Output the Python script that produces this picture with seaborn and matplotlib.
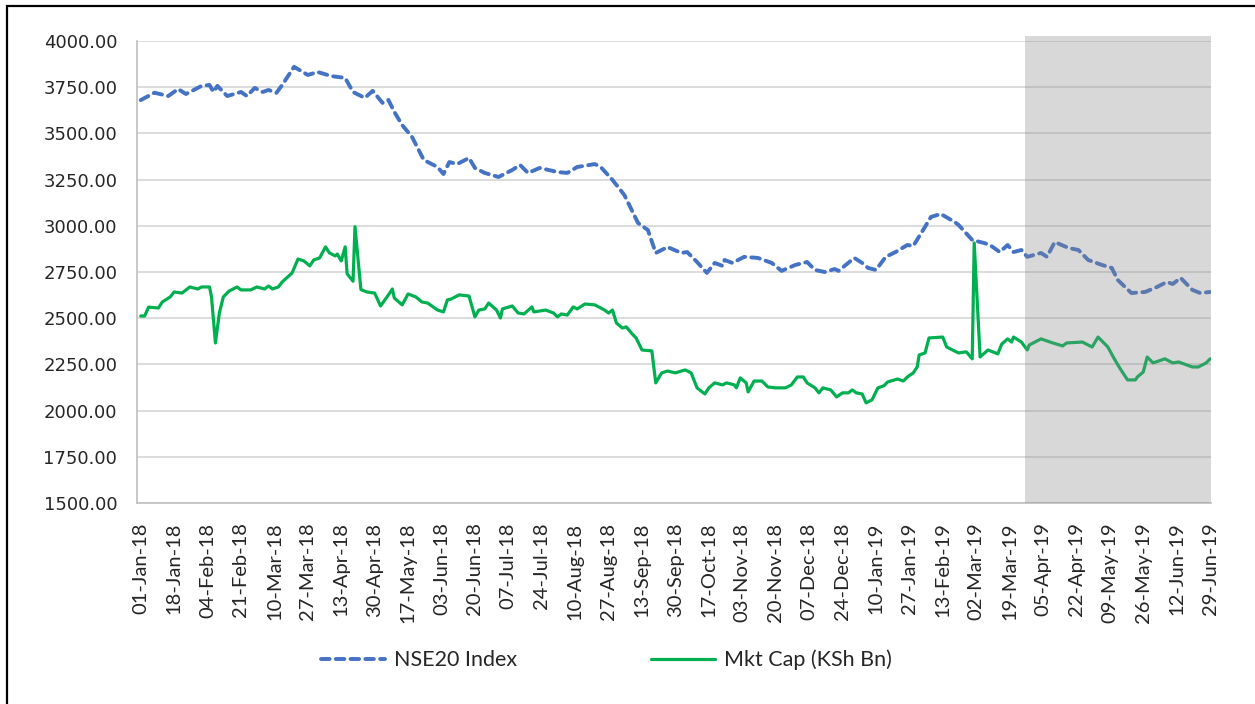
import pandas as pd
import matplotlib.pyplot as plt
import matplotlib.dates as mdates
from matplotlib.patches import Rectangle
from matplotlib.ticker import MultipleLocator, FuncFormatter
import seaborn as sns

# days counted from 01-Jan-2018
start_date = '2018-01-01'
end_date = '2019-06-29'
shade_start_day = 450

nse_days = [0, 7, 14, 19, 23, 31, 35, 37, 39, 44,
            51, 54, 58, 62, 65, 69, 72, 78, 85, 90,
            97, 104, 108, 114, 118, 123, 126, 129, 133, 138,
            144, 151, 154, 157, 161, 167, 170, 175, 182, 189,
            193, 197, 203, 212, 217, 222, 231, 234, 240, 246,
            253, 258, 262, 268, 275, 278, 283, 288, 292, 296,
            297, 301, 307, 314, 321, 326, 333, 339, 343, 348,
            353, 355, 363, 367, 370, 374, 379, 384, 390, 393,
            398, 402, 407, 414, 416, 423, 429, 432, 437, 441,
            444, 448, 451, 458, 461, 465, 472, 477, 482, 489,
            494, 497, 504, 511, 517, 522, 525, 529, 535, 539,
            544]
nse_vals = [3680, 3720, 3702, 3740, 3713, 3757, 3762, 3724, 3757, 3702,
            3724, 3702, 3746, 3724, 3735, 3719, 3762, 3860, 3816, 3832,
            3810, 3800, 3724, 3692, 3730, 3665, 3681, 3616, 3545, 3481,
            3356, 3318, 3280, 3345, 3334, 3367, 3313, 3286, 3264, 3302,
            3329, 3286, 3313, 3291, 3286, 3318, 3334, 3318, 3248, 3167,
            3015, 2977, 2853, 2885, 2853, 2858, 2804, 2745, 2799, 2783,
            2815, 2799, 2832, 2826, 2799, 2756, 2788, 2804, 2761, 2750,
            2766, 2756, 2826, 2799, 2772, 2761, 2832, 2858, 2896, 2891,
            2977, 3048, 3064, 3021, 3005, 2923, 2907, 2896, 2858, 2896,
            2858, 2869, 2832, 2853, 2832, 2912, 2880, 2869, 2815, 2788,
            2772, 2707, 2636, 2642, 2669, 2696, 2685, 2718, 2653, 2636,
            2642]

cap_days = [0, 2, 4, 9, 11, 15, 17, 21, 25, 29,
            31, 35, 36, 38, 40, 42, 45, 49, 51, 56,
            59, 63, 65, 67, 70, 72, 77, 80, 83, 86,
            88, 91, 94, 96, 99, 100, 102, 104, 105, 108,
            109, 112, 115, 119, 122, 126, 128, 129, 133, 136,
            140, 143, 146, 151, 154, 156, 158, 162, 167, 170,
            172, 175, 177, 181, 183, 184, 189, 192, 195, 199,
            200, 206, 210, 212, 214, 217, 220, 222, 226, 231,
            236, 238, 240, 242, 245, 247, 250, 252, 255, 260,
            262, 265, 268, 272, 275, 277, 280, 283, 287, 289,
            292, 296, 298, 302, 303, 305, 308, 309, 312, 316,
            319, 323, 328, 331, 334, 337, 339, 343, 345, 347,
            351, 354, 357, 360, 362, 364, 367, 369, 372, 375,
            378, 380, 385, 388, 390, 393, 395, 396, 399, 401,
            408, 410, 414, 416, 420, 423, 424, 427, 431, 436,
            438, 441, 443, 444, 448, 451, 452, 458, 464, 469,
            471, 479, 484, 487, 492, 495, 498, 502, 506, 507,
            510, 512, 515, 521, 525, 528, 535, 538, 542, 544]
cap_vals = [2512, 2512, 2560, 2555, 2588, 2615, 2642, 2636, 2669, 2658,
            2669, 2669, 2615, 2366, 2528, 2615, 2647, 2669, 2653, 2653,
            2669, 2658, 2674, 2658, 2669, 2696, 2745, 2820, 2810, 2783,
            2815, 2826, 2886, 2853, 2837, 2847, 2810, 2886, 2740, 2700,
            2995, 2655, 2642, 2636, 2566, 2626, 2658, 2609, 2572, 2631,
            2615, 2588, 2582, 2544, 2534, 2599, 2604, 2626, 2620, 2507,
            2544, 2550, 2582, 2544, 2501, 2550, 2566, 2528, 2523, 2561,
            2534, 2544, 2528, 2507, 2523, 2517, 2561, 2550, 2577, 2572,
            2544, 2528, 2544, 2474, 2447, 2453, 2415, 2393, 2328, 2323,
            2150, 2204, 2214, 2204, 2214, 2220, 2204, 2123, 2090, 2123,
            2150, 2139, 2150, 2139, 2123, 2177, 2150, 2101, 2160, 2160,
            2128, 2123, 2123, 2139, 2182, 2182, 2150, 2123, 2096, 2123,
            2112, 2074, 2096, 2096, 2112, 2096, 2090, 2042, 2058, 2123,
            2134, 2155, 2171, 2160, 2182, 2204, 2236, 2301, 2312, 2393,
            2398, 2344, 2323, 2312, 2318, 2280, 2907, 2290, 2328, 2307,
            2360, 2388, 2371, 2398, 2371, 2328, 2355, 2388, 2366, 2350,
            2366, 2371, 2344, 2398, 2344, 2285, 2231, 2166, 2166, 2182,
            2209, 2290, 2258, 2280, 2258, 2263, 2236, 2236, 2258, 2280]

t0 = pd.Timestamp(start_date)
nse = pd.DataFrame({'Date': t0 + pd.to_timedelta(nse_days, unit='D'), 'Value': nse_vals})
cap = pd.DataFrame({'Date': t0 + pd.to_timedelta(cap_days, unit='D'), 'Value': cap_vals})

sns.set_style('white')
plt.rcParams['font.family'] = ['Lato', 'DejaVu Sans']

fig = plt.figure(figsize=(12.55, 7.04), dpi=100)
ax = fig.add_axes([0.109, 0.2855, 0.856, 0.6563])

sns.lineplot(data=nse, x='Date', y='Value', ax=ax, color='#4472C4', linewidth=2.8,
             linestyle=(0, (2.2, 1.6)), dash_capstyle='round', label='NSE20 Index', zorder=3)
sns.lineplot(data=cap, x='Date', y='Value', ax=ax, color='#00B050', linewidth=2.3,
             label='Mkt Cap (KSh Bn)', zorder=3)

# shaded window at the end
ax.axvspan(t0 + pd.Timedelta(days=shade_start_day), pd.Timestamp(end_date) + pd.Timedelta(hours=12),
           ymin=0, ymax=1.011, color='#8A8A8A', alpha=0.33, lw=0, zorder=5, clip_on=False)

ax.set_xlim(t0 - pd.Timedelta(days=2), pd.Timestamp(end_date) + pd.Timedelta(hours=12))
ax.set_ylim(1500, 4000)
ax.yaxis.set_major_locator(MultipleLocator(250))
ax.yaxis.set_major_formatter(FuncFormatter(lambda v, p: f'{v:.2f}'))
ax.set_xticks(pd.date_range(start_date, end_date, freq='17D'))
ax.xaxis.set_major_formatter(mdates.DateFormatter('%d-%b-%y'))
ax.grid(axis='y', color='#D9D9D9', linewidth=1.3, zorder=0)
ax.set_axisbelow(True)
ax.set_xlabel('')
ax.set_ylabel('')

for s in ['top', 'right']:
    ax.spines[s].set_visible(False)
for s in ['left', 'bottom']:
    ax.spines[s].set_color('#BFBFBF')
    ax.spines[s].set_linewidth(1.2)

ax.tick_params(axis='both', length=0)
ax.tick_params(axis='y', pad=14, labelsize=13, labelfontfamily='DejaVu Sans')
ax.tick_params(axis='x', pad=14, rotation=90, labelsize=14.5)

handles, labels = ax.get_legend_handles_labels()
ax.get_legend().remove()
fig.legend(handles, labels, loc='center', bbox_to_anchor=(0.483, 0.0625), ncol=2,
           frameon=False, fontsize=15.5, handlelength=3.0, columnspacing=6.2, handletextpad=0.4)

# outer chart frame
fig.add_artist(Rectangle((0.0056, -0.1), 1.2, 1.0915, transform=fig.transFigure,
                         fill=False, edgecolor='black', linewidth=1.6))

fig.savefig('out.png', dpi=100)
